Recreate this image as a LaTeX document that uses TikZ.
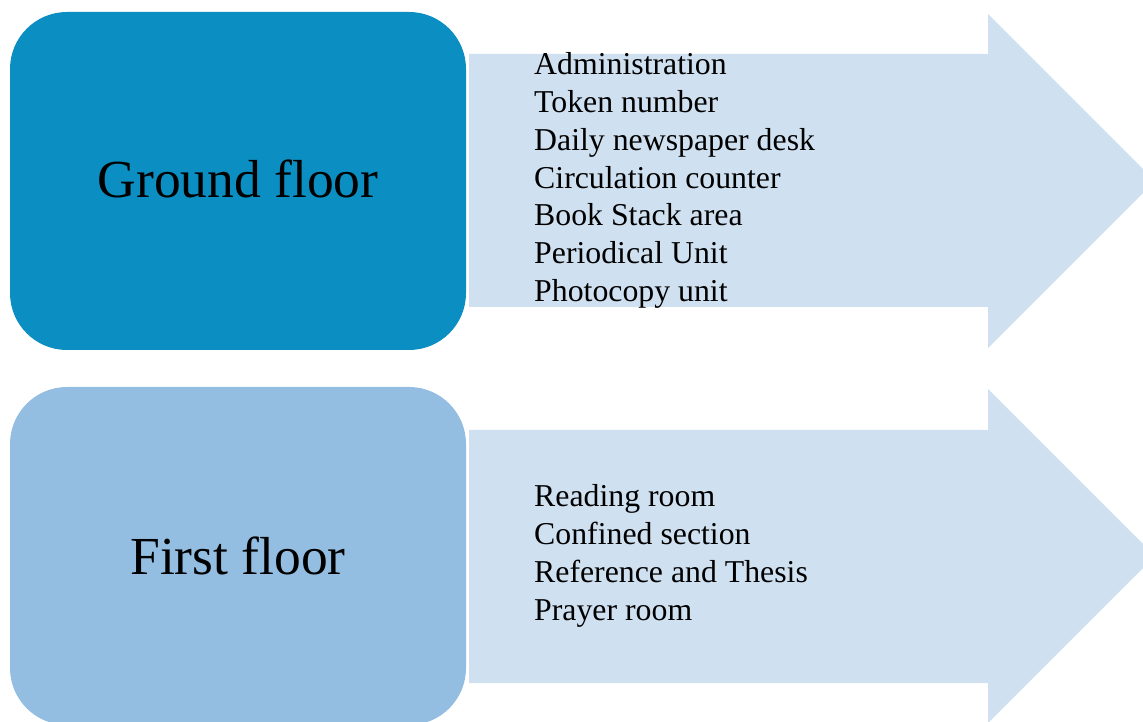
\documentclass[tikz,border=0pt]{standalone}
\usepackage{fontspec}
\setmainfont{Liberation Serif}
\definecolor{groundblue}{HTML}{0B8EC1}
\definecolor{firstblue}{HTML}{93BEE1}
\definecolor{arrowblue}{HTML}{CFE0F0}
\begin{document}
\begin{tikzpicture}[x=1pt,y=1pt,
  floorbox/.style={fill=#1, draw=none, rounded corners=57pt, minimum width=456pt,
    minimum height=338pt, inner sep=0pt},
  floorlabel/.style={anchor=base, inner sep=0pt, font=\fontsize{53.5}{60}\selectfont},
  bigarrow/.style={fill=arrowblue, draw=none},
  roomlist/.style={anchor=base west, inner sep=0pt, align=left,
    font=\fontsize{31.8}{37.8}\selectfont}]
\useasboundingbox (0,0) rectangle (1143,721);
\clip (0,0) rectangle (1143,721);
% ground floor: arrow, box and rooms (list anchored at its last baseline)
\path[bigarrow] (469,667) -- (988,667) -- (988,707) -- (1155,540) -- (988,373)
  -- (988,414) -- (469,414) -- cycle;
\node[floorbox=groundblue] (ground) at (238,540) {};
\node[floorlabel] (groundlabel) at (238,523) {Ground floor};
\node[roomlist] (groundrooms) at (534,419.5) {Administration\\Token number\\Daily newspaper desk\\Circulation counter\\Book Stack area\\Periodical Unit\\Photocopy unit};
% first floor: arrow, box and rooms
\path[bigarrow] (469,291) -- (988,291) -- (988,332) -- (1155,165) -- (988,-2)
  -- (988,38) -- (469,38) -- cycle;
\node[floorbox=firstblue] (first) at (238,165) {};
\node[floorlabel] (firstlabel) at (238,147) {First floor};
\node[roomlist] (firstrooms) at (534,101) {Reading room\\Confined section\\Reference and Thesis\\Prayer room};
\end{tikzpicture}
\end{document}
